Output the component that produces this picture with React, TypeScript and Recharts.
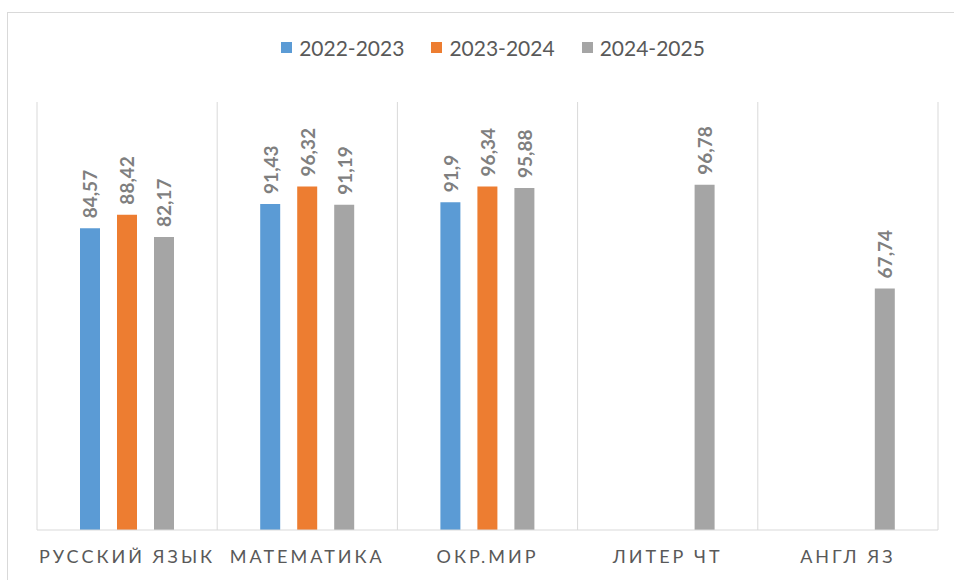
import { BarChart, Bar, XAxis, YAxis, CartesianGrid, LabelList } from "recharts";

const subjects = ["РУССКИЙ ЯЗЫК", "МАТЕМАТИКА", "ОКР.МИР", "ЛИТЕР ЧТ", "АНГЛ ЯЗ"];
const y2022: (number | null)[] = [84.57, 91.43, 91.9, null, null];
const y2023: (number | null)[] = [88.42, 96.32, 96.34, null, null];
const y2024: (number | null)[] = [82.17, 91.19, 95.88, 96.78, 67.74];

const seriesNames = ["2022-2023", "2023-2024", "2024-2025"];
const seriesColors = ["#5b9bd5", "#ed7d31", "#a5a5a5"];

const data = subjects.map((name, i) => ({
  name,
  a: y2022[i],
  b: y2023[i],
  c: y2024[i],
}));

const FONT = "Lato, 'Open Sans', sans-serif";

// rotated value label above each bar, decimal comma like the original
function ValueLabel(props: any) {
  const { x, y, width, value } = props;
  if (value === null || value === undefined) return null;
  const cx = Number(x) + Number(width) / 2;
  const ty = Number(y) - 10;
  return (
    <text
      x={cx}
      y={ty}
      transform={`rotate(-90 ${cx} ${ty})`}
      textAnchor="start"
      dominantBaseline="central"
      fill="#7f7f7f"
      fontSize={19}
      fontWeight={700}
      fontFamily={FONT}
    >
      {String(value).replace(".", ",")}
    </text>
  );
}

function SubjectTick(props: any) {
  const { x, y, payload } = props;
  return (
    <text
      x={x}
      y={y + 25}
      textAnchor="middle"
      fill="#595959"
      fontSize={18}
      fontFamily={FONT}
      letterSpacing={3}
    >
      {payload.value}
    </text>
  );
}

export default function App() {
  const keys = ["a", "b", "c"];
  return (
    <div style={{ position: "absolute", left: 0, top: 0, width: 954, height: 580, overflow: "hidden", background: "#fff" }}>
      <div
        style={{
          position: "absolute",
          left: 7,
          top: 12,
          width: 1000,
          height: 640,
          border: "1px solid #d9d9d9",
        }}
      />
      <div
        style={{
          position: "absolute",
          top: 35,
          left: 16,
          width: 954,
          display: "flex",
          justifyContent: "center",
          gap: 27,
          fontFamily: FONT,
          fontSize: 21,
          color: "#595959",
        }}
      >
        {seriesNames.map((s, i) => (
          <div key={s} style={{ display: "flex", alignItems: "center", gap: 7 }}>
            <span style={{ width: 11, height: 11, background: seriesColors[i], display: "inline-block" }} />
            <span>{s}</span>
          </div>
        ))}
      </div>
      <div style={{ position: "absolute", left: 0, top: 0 }}>
        <BarChart
          width={954}
          height={580}
          data={data}
          margin={{ top: 102, right: 16, left: 37, bottom: 10 }}
          barSize={20}
          barGap={17}
        >
          <CartesianGrid
            horizontal={false}
            stroke="#d9d9d9"
            verticalCoordinatesGenerator={({ offset }: any) =>
              subjects.map((_, i) => offset.left + (i * offset.width) / subjects.length).concat(offset.left + offset.width)
            }
          />
          <XAxis
            dataKey="name"
            axisLine={{ stroke: "#d9d9d9" }}
            tickLine={false}
            height={40}
            interval={0}
            tick={<SubjectTick />}
          />
          <YAxis hide domain={[0, 120]} />
          {keys.map((k, i) => (
            <Bar key={k} dataKey={k} name={seriesNames[i]} fill={seriesColors[i]} isAnimationActive={false}>
              <LabelList dataKey={k} content={<ValueLabel />} />
            </Bar>
          ))}
        </BarChart>
      </div>
    </div>
  );
}
